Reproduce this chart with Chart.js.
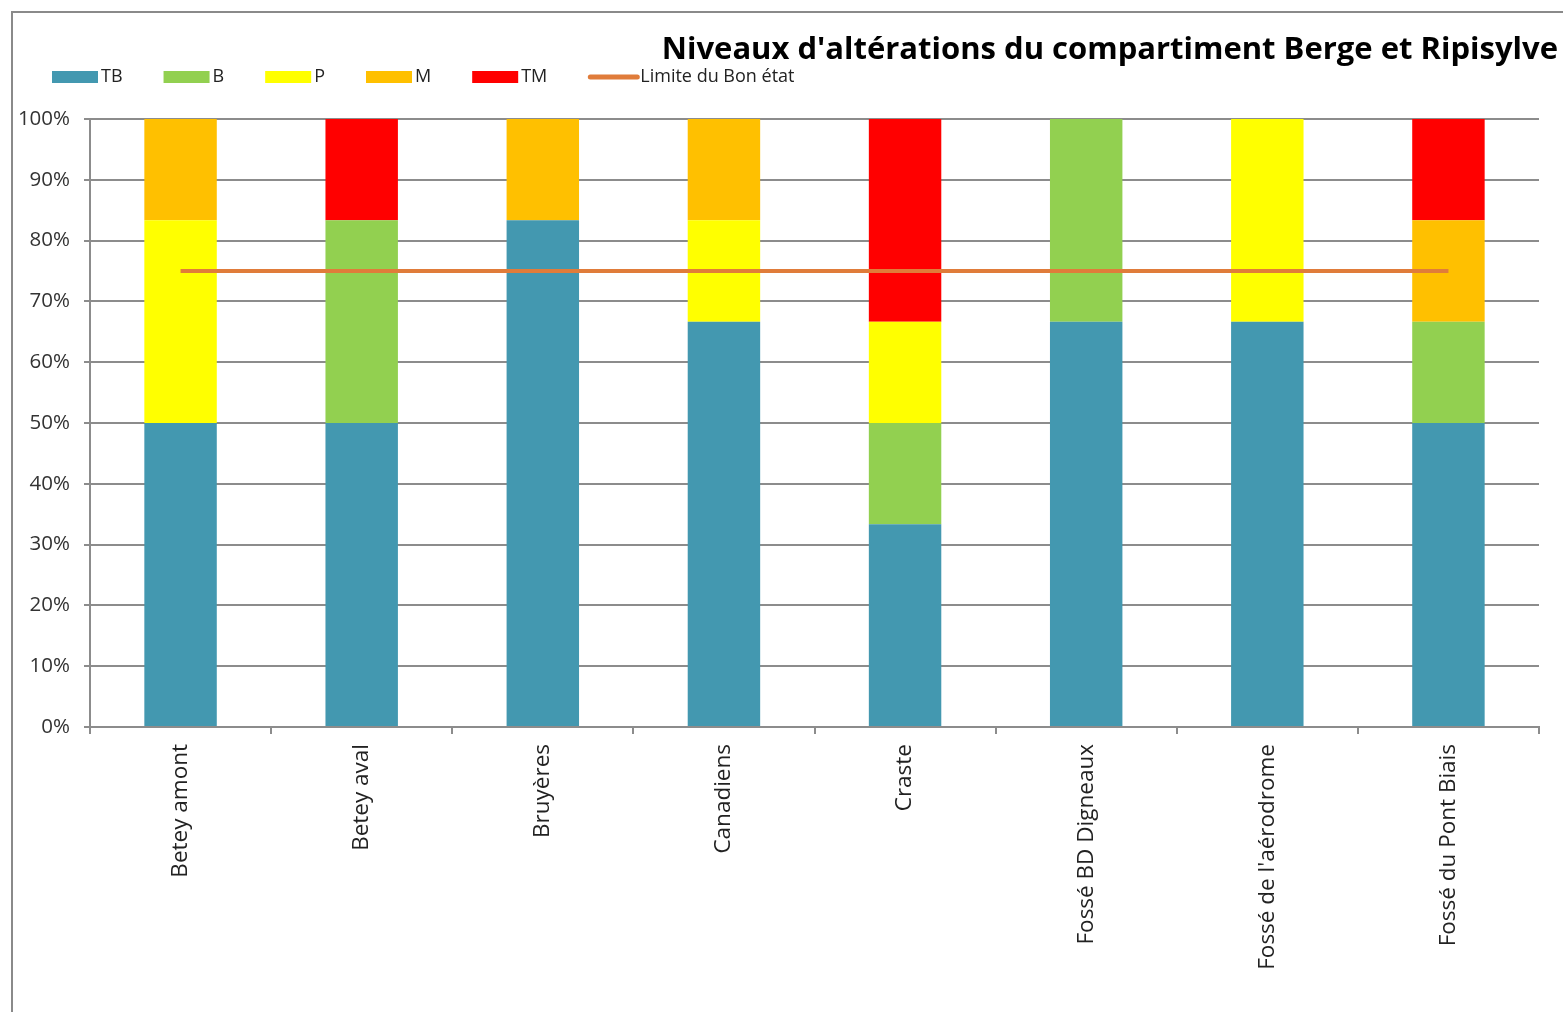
<!DOCTYPE html>
<html>
<head>
<meta charset="utf-8">
<script src="https://cdn.jsdelivr.net/npm/chart.js@4.4.1/dist/chart.umd.min.js"></script>
<style>
  html, body { margin: 0; padding: 0; background: #fff; }
  #wrap { width: 1563px; height: 1012px; }
</style>
</head>
<body>
<div id="wrap"><canvas id="altChart" width="1563" height="1012"></canvas></div>
<script>
// Stations
const sites = ['Betey amont', 'Betey aval', 'Bruyères', 'Canadiens', 'Craste',
  'Fossé BD Digneaux', "Fossé de l'aérodrome", 'Fossé du Pont Biais'];

// Share of each alteration level per station (%)
const tb = [50, 50, 83.33, 66.67, 33.33, 66.67, 66.67, 50];
const b  = [0, 33.33, 0, 0, 16.67, 33.33, 0, 16.67];
const p  = [33.33, 0, 0, 16.67, 16.67, 0, 33.33, 0];
const m  = [16.67, 0, 16.67, 16.66, 0, 0, 0, 16.66];
const tm = [0, 16.67, 0, 0, 33.34, 0, 0, 16.67];

// Good status threshold
const limite = [75, 75, 75, 75, 75, 75, 75, 75];

const yTicks = [0, 10, 20, 30, 40, 50, 60, 70, 80, 90, 100];

const gridGrey = '#8c8c8c';
const fontFam = "'Open Sans', sans-serif";

function bar(label, data, color) {
  return { type: 'bar', label, data, backgroundColor: color, order: 1, stack: 'niveaux',
    barPercentage: 0.4, categoryPercentage: 1.0 };
}

// title, legend row and the outer frame
const decor = {
  id: 'decor',
  beforeDraw(chart) {
    const ctx = chart.ctx;
    ctx.save();
    ctx.strokeStyle = '#8a8a8a';
    ctx.lineWidth = 2;
    ctx.beginPath();
    ctx.moveTo(12, 1012);
    ctx.lineTo(12, 12);
    ctx.lineTo(1563, 12);
    ctx.stroke();
    ctx.restore();
  },
  afterDraw(chart) {
    const ctx = chart.ctx;
    ctx.save();
    ctx.fillStyle = '#000';
    ctx.font = "bold 31px " + fontFam;
    ctx.textAlign = 'right';
    ctx.textBaseline = 'middle';
    ctx.fillText("Niveaux d'altérations du compartiment Berge et Ripisylve", 1558, 50);

    ctx.font = "18px " + fontFam;
    ctx.textAlign = 'left';
    let x = 52;
    const y = 77;
    chart.data.datasets.forEach(ds => {
      if (ds.type === 'line') {
        ctx.strokeStyle = ds.borderColor;
        ctx.lineWidth = 5;
        ctx.lineCap = 'round';
        ctx.beginPath();
        ctx.moveTo(x + 2, y);
        ctx.lineTo(x + 49, y);
        ctx.stroke();
        x += 52;
      } else {
        ctx.fillStyle = ds.backgroundColor;
        ctx.fillRect(x, y - 6, 46, 12);
        x += 49;
      }
      ctx.fillStyle = '#222';
      ctx.fillText(ds.label, x, y);
      x += ctx.measureText(ds.label).width + 41;
    });
    ctx.restore();
  }
};

new Chart(document.getElementById('altChart'), {
  data: {
    labels: sites,
    datasets: [
      bar('TB', tb, '#4398b0'),
      bar('B', b, '#92d050'),
      bar('P', p, '#ffff00'),
      bar('M', m, '#ffc000'),
      bar('TM', tm, '#ff0000'),
      { type: 'line', label: 'Limite du Bon état', data: limite, borderColor: '#e07c3a',
        backgroundColor: '#e07c3a', borderWidth: 4, pointRadius: 0, order: 0, stack: 'limite' }
    ]
  },
  options: {
    responsive: false,
    animation: false,
    layout: { padding: { top: 119, right: 24, left: 0, bottom: 0 } },
    plugins: { legend: { display: false }, title: { display: false }, tooltip: { enabled: false } },
    scales: {
      x: {
        stacked: true,
        offset: true,
        afterFit: s => { s.height = 285; },
        grid: { drawOnChartArea: false, drawTicks: true, tickLength: 7, color: gridGrey, lineWidth: 2 },
        border: { display: true, color: gridGrey, width: 2 },
        ticks: { minRotation: 90, maxRotation: 90, padding: 10, color: '#222',
          font: { family: fontFam, size: 22.5 } }
      },
      y: {
        stacked: true,
        min: 0,
        max: 100,
        afterFit: s => { s.width = 90; },
        afterBuildTicks: s => { s.ticks = yTicks.map(v => ({ value: v })); },
        grid: { color: gridGrey, lineWidth: 2, tickLength: 6 },
        border: { display: true, color: gridGrey, width: 2 },
        ticks: { padding: 14, color: '#333', font: { family: fontFam, size: 20.5 },
          callback: v => v + '%' }
      }
    }
  },
  plugins: [decor]
});
</script>
</body>
</html>
